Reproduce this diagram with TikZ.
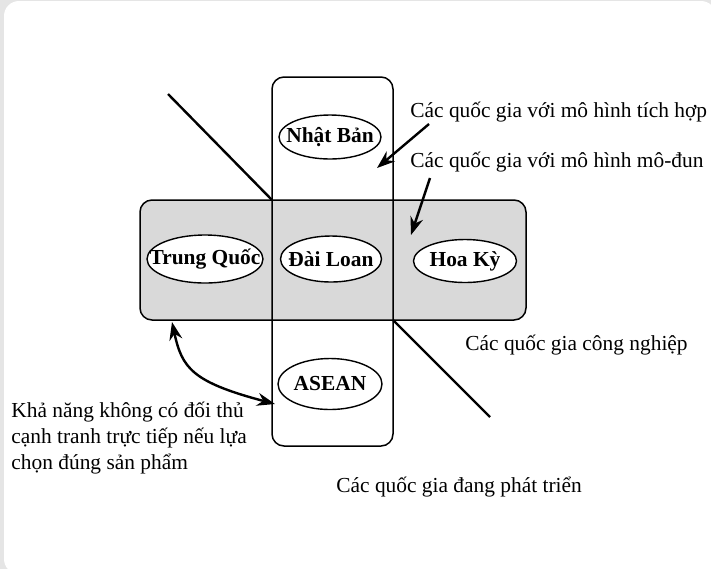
\documentclass[tikz,border=0pt]{standalone}
\usepackage{fontspec}
\setmainfont{Liberation Serif}
\usetikzlibrary{shapes.geometric,arrows.meta}

\newcommand\ctryname[1]{\makebox[0pt]{#1}}

\tikzset{
  band/.style={draw, fill=black!15, line width=0.75pt, rounded corners=6pt, outer sep=0pt, minimum width=193pt, minimum height=60pt},
  column/.style={draw, line width=0.75pt, rounded corners=6pt, outer sep=0pt, minimum width=60.5pt, minimum height=184.5pt},
  country/.style={ellipse, draw, fill=white, line width=0.7pt, inner sep=0pt, font=\fontsize{10.7}{13}\selectfont\bfseries},
  note/.style={inner sep=0pt, anchor=base west, font=\fontsize{10.7}{12.8}\selectfont},
  divide/.style={line width=1.2pt},
  arr/.style={->, line width=1.2pt}
}

\begin{document}
\begin{tikzpicture}[x=0.5pt, y=-0.5pt, >={Stealth[length=9pt,width=6.5pt]}]
  \useasboundingbox (0,0) rectangle (711,569);
  \clip (0,0) rectangle (711,569);
  \fill[black!10] (0,0) rectangle (711,569);
  \fill[white, rounded corners=7.5pt] (4,1) rectangle (716,574);
  % industrial countries and developing countries
  \node[band] (band) at (333,260) {};
  \node[column] (col) at (332.5,261.5) {};
  % dividing line
  \coordinate (d1) at (168,94);
  \coordinate (d2) at (490,417);
  \draw[divide] (d1) -- (col.west |- band.north);
  \draw[divide] (col.east |- band.south) -- (d2);
  % countries
  \node[country, minimum width=51pt, minimum height=22pt] (japan) at (330,137) {\ctryname{Nhật Bản}};
  \node[country, minimum width=58pt, minimum height=24pt] (china) at (205,259) {\ctryname{Trung Quốc}};
  \node[country, minimum width=50.5pt, minimum height=23pt] (taiwan) at (331,259) {\ctryname{Đài Loan}};
  \node[country, minimum width=51.5pt, minimum height=21.5pt] (usa) at (465,261) {\ctryname{Hoa Kỳ}};
  \node[country, minimum width=52pt, minimum height=25.5pt] (asean) at (330,384) {\ctryname{ASEAN}};
  % notes
  \node[note] (intnote) at (410,117) {Các quốc gia với mô hình tích hợp};
  \node[note] (modnote) at (410,167) {Các quốc gia với mô hình mô-đun};
  \node[note] (indnote) at (465,350) {Các quốc gia công nghiệp};
  \node[note] (devnote) at (336,492) {Các quốc gia đang phát triển};
  \node[note, anchor=west, align=left] (chance) at (11,438) {Khả năng không có đối thủ\\cạnh tranh trực tiếp nếu lựa\\chọn đúng sản phẩm};
  % arrows
  \coordinate (a1) at (429,124);
  \coordinate (b1) at (377,168);
  \coordinate (a2) at (430,178);
  \coordinate (b2) at (411,235);
  \draw[arr] (a1) -- (b1);
  \draw[arr] (a2) -- (b2);
  \coordinate (c1) at (172,322);
  \coordinate (c2) at (275,404);
  \draw[arr, <->] (c1) .. controls (182,368) and (192,382) .. (c2);
\end{tikzpicture}
\end{document}
